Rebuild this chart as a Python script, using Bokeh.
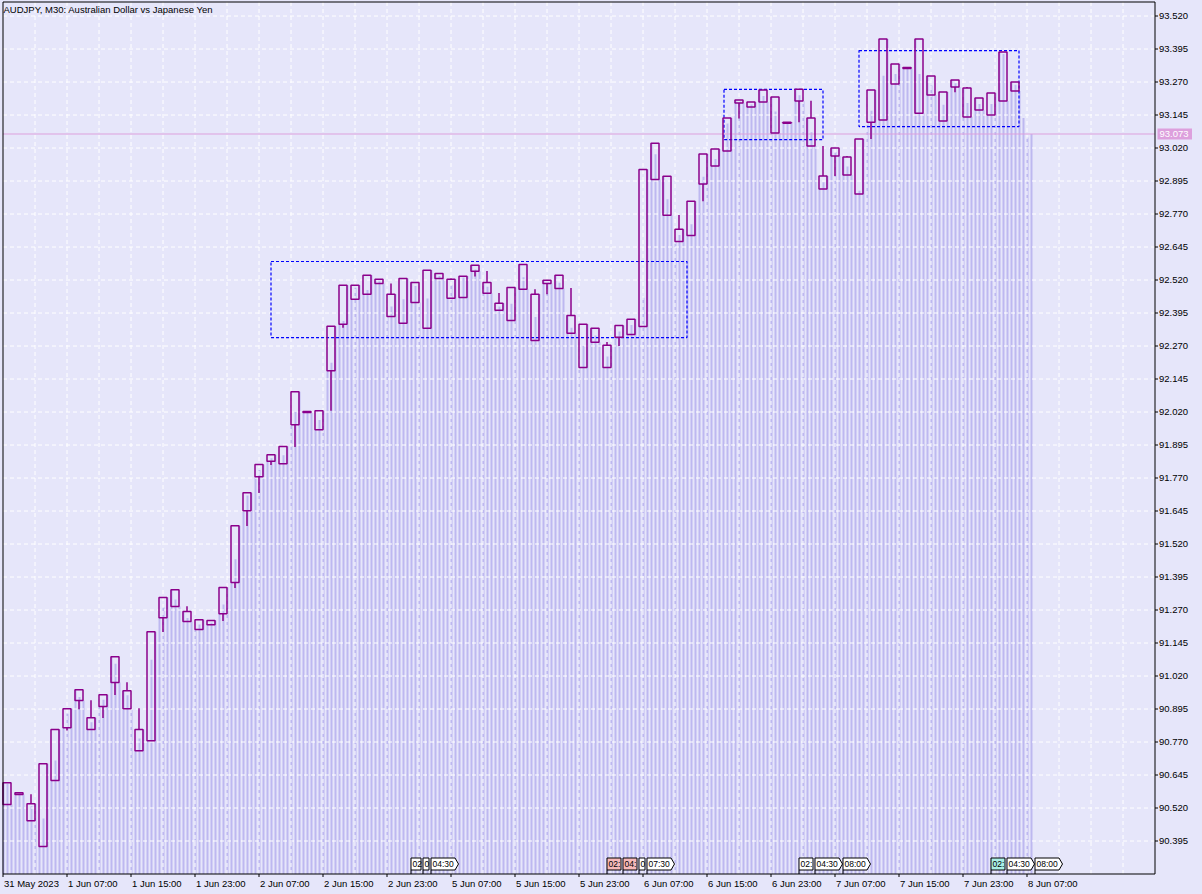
from bokeh.plotting import figure
from bokeh.models import Range1d
from bokeh.core.properties import value
from bokeh.embed import file_html
from bokeh.resources import INLINE

title_text = "AUDJPY, M30:  Australian Dollar vs Japanese Yen"

# 90-minute candles (centre of candle k sits on M30 bar 3k+1)
candle_open = [90.616, 90.578, 90.472, 90.374, 90.624, 90.824, 90.968, 90.817, 90.904, 91.093,
               90.964, 90.737, 90.775, 91.241, 91.347, 91.264, 91.196, 91.214, 91.256, 91.374,
               91.646, 91.775, 91.833, 91.824, 91.972, 92.022, 91.953, 92.176, 92.352, 92.447,
               92.466, 92.523, 92.382, 92.356, 92.511, 92.337, 92.545, 92.451, 92.454, 92.576,
               92.511, 92.405, 92.367, 92.579, 92.291, 92.519, 92.538, 92.386, 92.189, 92.337,
               92.189, 92.303, 92.314, 92.344, 93.038, 92.913, 92.666, 92.689, 92.884, 92.952,
               93.009, 93.202, 93.175, 93.240, 93.213, 93.114, 93.243, 93.134, 92.865, 93.020,
               92.986, 92.846, 93.118, 93.126, 93.262, 93.325, 93.433, 93.293, 93.122, 93.278,
               93.247, 93.209, 93.145, 93.384, 93.270]
candle_high = [90.616, 90.578, 90.572, 90.688, 90.817, 90.896, 90.968, 90.928, 90.949, 91.093,
               90.996, 90.898, 91.188, 91.317, 91.347, 91.284, 91.233, 91.230, 91.355, 91.589,
               91.714, 91.821, 91.858, 91.889, 92.097, 92.022, 92.025, 92.345, 92.500, 92.500,
               92.538, 92.523, 92.507, 92.526, 92.511, 92.557, 92.545, 92.526, 92.534, 92.576,
               92.554, 92.471, 92.492, 92.579, 92.485, 92.519, 92.538, 92.490, 92.352, 92.337,
               92.285, 92.348, 92.371, 92.939, 93.038, 92.913, 92.766, 92.818, 92.997, 93.016,
               93.134, 93.202, 93.194, 93.240, 93.213, 93.118, 93.243, 93.199, 93.028, 93.020,
               92.990, 93.054, 93.240, 93.433, 93.338, 93.325, 93.433, 93.293, 93.232, 93.278,
               93.251, 93.209, 93.228, 93.384, 93.270]
candle_low = [90.533, 90.571, 90.472, 90.374, 90.624, 90.814, 90.894, 90.817, 90.861, 90.948,
              90.896, 90.737, 90.775, 91.187, 91.283, 91.226, 91.196, 91.214, 91.228, 91.353,
              91.588, 91.713, 91.819, 91.824, 91.887, 92.018, 91.953, 92.025, 92.339, 92.447,
              92.466, 92.507, 92.382, 92.356, 92.435, 92.337, 92.526, 92.451, 92.454, 92.533,
              92.470, 92.405, 92.367, 92.485, 92.291, 92.466, 92.488, 92.318, 92.189, 92.284,
              92.189, 92.270, 92.314, 92.344, 92.901, 92.765, 92.666, 92.689, 92.818, 92.952,
              93.009, 93.132, 93.175, 93.194, 93.077, 93.114, 93.118, 93.028, 92.865, 92.914,
              92.918, 92.846, 93.054, 93.126, 93.262, 93.321, 93.152, 93.221, 93.122, 93.231,
              93.137, 93.164, 93.145, 93.198, 93.236]
candle_close = [90.533, 90.571, 90.536, 90.688, 90.817, 90.896, 90.927, 90.862, 90.949, 90.995,
                90.896, 90.817, 91.188, 91.317, 91.283, 91.226, 91.233, 91.230, 91.355, 91.589,
                91.714, 91.821, 91.858, 91.889, 92.097, 92.018, 92.025, 92.345, 92.500, 92.500,
                92.538, 92.507, 92.466, 92.526, 92.435, 92.557, 92.526, 92.523, 92.534, 92.553,
                92.470, 92.432, 92.492, 92.485, 92.466, 92.507, 92.488, 92.318, 92.352, 92.284,
                92.273, 92.348, 92.371, 92.939, 92.901, 92.765, 92.712, 92.818, 92.997, 93.016,
                93.134, 93.190, 93.194, 93.194, 93.077, 93.118, 93.198, 93.028, 92.914, 92.990,
                92.918, 93.054, 93.240, 93.433, 93.338, 93.321, 93.152, 93.221, 93.232, 93.251,
                93.137, 93.164, 93.228, 93.198, 93.236]

# M30 closes, drawn as the light histogram behind the candles (bar 0 = 31 May 23:00)
bar_close = [
    90.616, 90.612, 90.533, 90.578, 90.574, 90.571, 90.472, 90.527, 90.536, 90.374, 90.480, 90.688,
    90.624, 90.700, 90.817, 90.824, 90.877, 90.896, 90.968, 90.940, 90.927, 90.817, 90.845, 90.862,
    90.904, 90.930, 90.949, 91.093, 91.066, 90.995, 90.964, 90.947, 90.896, 90.737, 90.783, 90.817,
    90.775, 91.082, 91.188, 91.241, 91.280, 91.317, 91.347, 91.310, 91.283, 91.264, 91.240, 91.226,
    91.196, 91.215, 91.233, 91.214, 91.222, 91.230, 91.256, 91.291, 91.355, 91.374, 91.462, 91.589,
    91.646, 91.704, 91.714, 91.775, 91.800, 91.821, 91.833, 91.845, 91.858, 91.824, 91.856, 91.889,
    91.972, 92.020, 92.097, 92.022, 92.020, 92.018, 91.953, 91.990, 92.025, 92.176, 92.207, 92.345,
    92.352, 92.365, 92.500, 92.447, 92.491, 92.500, 92.466, 92.482, 92.538, 92.523, 92.515, 92.507,
    92.382, 92.420, 92.466, 92.356, 92.447, 92.526, 92.511, 92.497, 92.435, 92.337, 92.450, 92.557,
    92.545, 92.535, 92.526, 92.451, 92.500, 92.523, 92.454, 92.529, 92.534, 92.576, 92.560, 92.553,
    92.511, 92.494, 92.470, 92.405, 92.420, 92.432, 92.367, 92.430, 92.492, 92.579, 92.530, 92.485,
    92.291, 92.380, 92.466, 92.519, 92.512, 92.507, 92.538, 92.510, 92.488, 92.386, 92.339, 92.318,
    92.189, 92.270, 92.352, 92.337, 92.310, 92.284, 92.189, 92.230, 92.273, 92.303, 92.325, 92.348,
    92.314, 92.350, 92.371, 92.344, 92.453, 92.939, 93.038, 92.996, 92.901, 92.913, 92.826, 92.765,
    92.666, 92.690, 92.712, 92.689, 92.731, 92.818, 92.884, 92.911, 92.997, 92.952, 92.978, 93.016,
    93.009, 93.113, 93.134, 93.202, 93.196, 93.190, 93.175, 93.185, 93.194, 93.240, 93.217, 93.194,
    93.213, 93.158, 93.077, 93.114, 93.116, 93.118, 93.243, 93.220, 93.198, 93.134, 93.080, 93.028,
    92.865, 92.890, 92.914, 93.020, 93.005, 92.990, 92.986, 92.950, 92.918, 92.846, 92.858, 93.054,
    93.118, 93.161, 93.240, 93.126, 93.294, 93.433, 93.262, 93.300, 93.338, 93.325, 93.323, 93.321,
    93.433, 93.300, 93.152, 93.293, 93.257, 93.221, 93.122, 93.184, 93.232, 93.278, 93.265, 93.251,
    93.247, 93.190, 93.137, 93.209, 93.187, 93.164, 93.145, 93.187, 93.228, 93.384, 93.376, 93.198,
    93.270, 93.260, 93.236, 93.134, 93.060, 93.073]

last_price = 93.073

price_ticks = [90.395, 90.520, 90.645, 90.770, 90.895, 91.020, 91.145, 91.270, 91.395, 91.520,
               91.645, 91.770, 91.895, 92.020, 92.145, 92.270, 92.395, 92.520, 92.645, 92.770,
               92.895, 93.020, 93.145, 93.270, 93.395, 93.520]

time_tick_bars = [0, 16, 32, 48, 64, 80, 96, 112, 128, 144, 160, 176, 192, 208, 224, 240, 256]
time_tick_labels = ["31 May 2023", "1 Jun 07:00", "1 Jun 15:00", "1 Jun 23:00", "2 Jun 07:00",
                    "2 Jun 15:00", "2 Jun 23:00", "5 Jun 07:00", "5 Jun 15:00", "5 Jun 23:00",
                    "6 Jun 07:00", "6 Jun 15:00", "6 Jun 23:00", "7 Jun 07:00", "7 Jun 15:00",
                    "7 Jun 23:00", "8 Jun 07:00"]
grid_bars = [8 * j for j in range(1, 36)]

# consolidation boxes (bar positions and prices)
box_left = [67.0, 180.25, 214.0]
box_right = [171.0, 205.0, 254.0]
box_top = [92.590, 93.242, 93.389]
box_bottom = [92.302, 93.052, 93.101]

# session markers at the foot of the chart
session_bars = [102, 105, 107, 151, 155, 159, 161, 199, 203, 210, 247, 251, 258]
session_texts = ["02", "0", "04:30", "02:", "04:", "0", "07:30", "02:", "04:30", "08:00",
                 "02:", "04:30", "08:00"]
session_fills = ["white", "white", "white", "#f6b8b8", "#f6b8b8", "white", "white", "white",
                 "white", "white", "#a9eee4", "white", "white"]

# ---------------------------------------------------------------- layout / style
W, H = 1202, 894
PXB = 4.0      # pixels per M30 bar
PXP = 264.0    # pixels per 1.0 of price
X0 = -2.5 / PXB                  # data x at the left canvas edge
Y1 = 93.52 + 15.5 / PXP          # data y at the top canvas edge


def xd(px):
    return X0 + px / PXB


def yd(py):
    return Y1 - py / PXP


FONT = value("Liberation Sans")
BG = "#e6e6fa"
CANDLE = "#8b008b"
STRIPE = "#bdb8f0"
PLUM = "#dda0dd"

L, R = xd(2.5), xd(1154.5)
T, B = yd(1.5), yd(873.5)

p = figure(width=W, height=H, output_backend="svg", toolbar_location=None,
           x_range=Range1d(xd(0), xd(W)), y_range=Range1d(yd(H), yd(0)),
           x_axis_type=None, y_axis_type=None,
           min_border=0, min_border_left=0, min_border_right=0, min_border_top=0,
           min_border_bottom=0, background_fill_color=BG, border_fill_color=BG,
           outline_line_color=None)

# histogram of M30 closes
bar_x = [i + 0.125 for i in range(len(bar_close))]
p.vbar(x=bar_x, width=0.5, bottom=B, top=bar_close, fill_color=STRIPE, line_color=None)

# grid
p.segment(x0=[L] * len(price_ticks), y0=price_ticks, x1=[R] * len(price_ticks), y1=price_ticks,
          line_color="white", line_width=1, line_dash="4 3")
p.segment(x0=grid_bars, y0=[B] * len(grid_bars), x1=grid_bars, y1=[T] * len(grid_bars),
          line_color="white", line_width=1, line_dash="4 3")

# last price line
p.segment(x0=[L], y0=[last_price], x1=[R], y1=[last_price], line_color=PLUM, line_width=1)

# dashed consolidation boxes
p.quad(left=box_left, right=box_right, top=box_top, bottom=box_bottom, fill_alpha=0,
       line_color="#0000ff", line_width=1.2, line_dash="3 2")

# candles
cx = [3 * k + 1 for k in range(len(candle_open))]
body_top = [max(o, c) for o, c in zip(candle_open, candle_close)]
body_bot = [min(o, c) for o, c in zip(candle_open, candle_close)]
uw = [(x, t, h) for x, h, t in zip(cx, candle_high, body_top) if h > t]
lw = [(x, b, l) for x, l, b in zip(cx, candle_low, body_bot) if l < b]
p.segment(x0=[u[0] for u in uw], y0=[u[1] for u in uw], x1=[u[0] for u in uw],
          y1=[u[2] for u in uw], line_color=CANDLE, line_width=1.5)
p.segment(x0=[u[0] for u in lw], y0=[u[1] for u in lw], x1=[u[0] for u in lw],
          y1=[u[2] for u in lw], line_color=CANDLE, line_width=1.5)
p.vbar(x=cx, width=2, top=body_top, bottom=body_bot, fill_alpha=0,
       line_color=CANDLE, line_width=1.5)

# session markers
s_xs, s_ys, s_tx = [], [], []
s_top, s_bot = yd(857.5), yd(869.5)
s_mid = (s_top + s_bot) / 2
for i, b in enumerate(session_bars):
    gap = (session_bars[i + 1] - b) * PXB if i + 1 < len(session_bars) else 1e9
    if gap >= 28:
        w, tip = 24.0, 3.5
    else:
        w, tip = gap - 2.0, 0.0
    s_xs.append([b, b + w / PXB, b + (w + tip) / PXB, b + w / PXB, b])
    s_ys.append([s_bot, s_bot, s_mid, s_top, s_top])
    s_tx.append(b + 1.5 / PXB)
p.segment(x0=session_bars, y0=[s_bot] * len(session_bars), x1=session_bars,
          y1=[B] * len(session_bars), line_color="black", line_width=1)
p.patches(xs=s_xs, ys=s_ys, fill_color=session_fills, line_color="black", line_width=1)
p.text(x=s_tx, y=[s_mid] * len(s_tx), text=session_texts, text_font=FONT,
       text_font_size=value("8.5px"), text_align="left", text_baseline="middle",
       text_color="black")

# chart frame
p.quad(left=[L], right=[R], top=[T], bottom=[B], fill_alpha=0, line_color="black", line_width=1)

# price scale
n = len(price_ticks)
p.segment(x0=[R] * n, y0=price_ticks, x1=[R + 3 / PXB] * n, y1=price_ticks,
          line_color="black", line_width=1)
p.text(x=[R + 4 / PXB] * n, y=price_ticks, text=[f"{v:.3f}" for v in price_ticks],
       text_font=FONT, text_font_size=value("9.5px"), text_align="left",
       text_baseline="middle", text_color="black")

# last price tag
p.quad(left=[R + 2.5 / PXB], right=[R + 37 / PXB], top=[last_price + 5.5 / PXP],
       bottom=[last_price - 5.5 / PXP], fill_color=PLUM, line_color=None)
p.text(x=[R + 4.5 / PXB], y=[last_price], text=[f"{last_price:.3f}"], text_font=FONT,
       text_font_size=value("9.5px"), text_align="left", text_baseline="middle",
       text_color="white")

# time scale
m = len(time_tick_bars)
p.segment(x0=time_tick_bars, y0=[B] * m, x1=time_tick_bars, y1=[B - 3 / PXP] * m,
          line_color="black", line_width=1)
p.text(x=[b + 1 / PXB for b in time_tick_bars], y=[B - 4 / PXP] * m, text=time_tick_labels,
       text_font=FONT, text_font_size=value("9.5px"), text_align="left", text_baseline="top",
       text_color="black")

# title
p.text(x=[xd(3)], y=[yd(3)], text=[title_text], text_font=FONT, text_font_size=value("9.5px"),
       text_align="left", text_baseline="top", text_color="black")

html = file_html(p, INLINE)
html = html.replace("</head>", "<style>body{margin:0;overflow:hidden;background:#e6e6fa}</style></head>", 1)
open("out.html", "w").write(html)
